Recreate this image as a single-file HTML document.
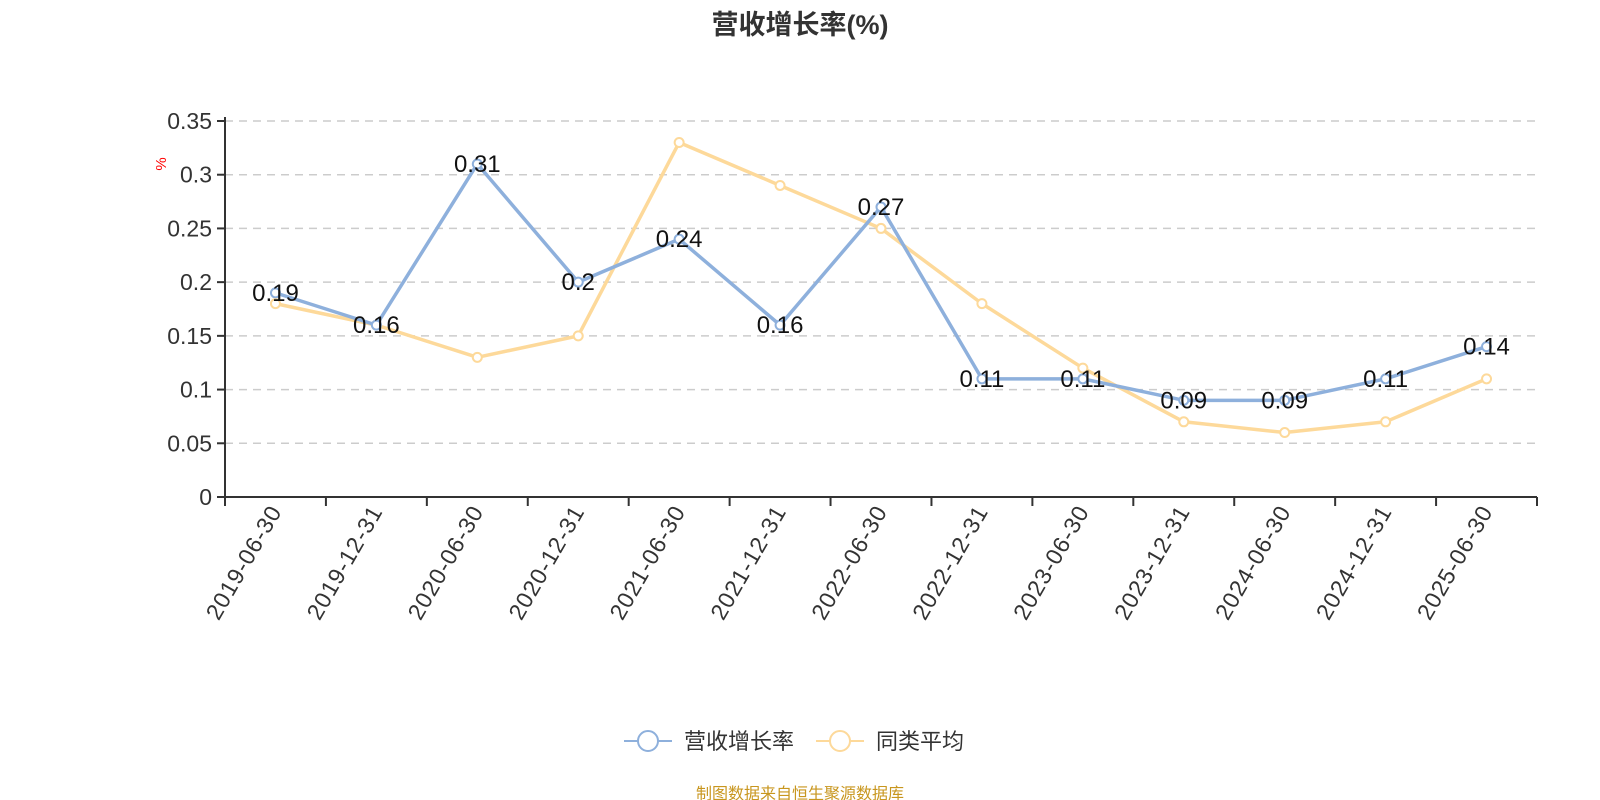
<!DOCTYPE html>
<html><head><meta charset="utf-8"><style>
body{margin:0;background:#fff;}
svg{display:block;font-family:"Liberation Sans","Noto Sans CJK SC",sans-serif;}
</style></head><body>
<svg id="chart" width="1600" height="800" viewBox="0 0 1600 800">
<text x="800" y="34" text-anchor="middle" font-size="27" font-weight="bold" fill="#333">营收增长率(%)</text>
<text x="0" y="0" transform="translate(166,164) rotate(-90)" text-anchor="middle" font-size="15" fill="#f00">%</text>
<g id="grid"></g><g id="axes"></g><g id="series"></g><g id="labels"></g>
<g>
<g>
<line x1="624" y1="741" x2="672" y2="741" stroke="#8eb0dc" stroke-width="2"/>
<circle cx="648" cy="741" r="10" fill="#fff" stroke="#8eb0dc" stroke-width="2"/>
<text x="684" y="749" font-size="22" fill="#333">营收增长率</text></g>
<g>
<line x1="816" y1="741" x2="864" y2="741" stroke="#fdd99a" stroke-width="2"/>
<circle cx="840" cy="741" r="10" fill="#fff" stroke="#fdd99a" stroke-width="2"/>
<text x="876" y="749" font-size="22" fill="#333">同类平均</text></g>
</g>
<text x="800" y="799" text-anchor="middle" font-size="16" fill="#c8961e">制图数据来自恒生聚源数据库</text>
</svg>
<script>
const categories=["2019-06-30","2019-12-31","2020-06-30","2020-12-31","2021-06-30","2021-12-31","2022-06-30","2022-12-31","2023-06-30","2023-12-31","2024-06-30","2024-12-31","2025-06-30"];
const revenueGrowth=[0.19,0.16,0.31,0.2,0.24,0.16,0.27,0.11,0.11,0.09,0.09,0.11,0.14];
const peerAverage=[0.18,0.16,0.13,0.15,0.33,0.29,0.25,0.18,0.12,0.07,0.06,0.07,0.11];
const yTicks=[0,0.05,0.1,0.15,0.2,0.25,0.3,0.35];
const yTickLabels=["0","0.05","0.1","0.15","0.2","0.25","0.3","0.35"];
const NS="http://www.w3.org/2000/svg";
const L=225,R=1537,T=121,B=497,YMAX=0.35;
const band=(R-L)/categories.length;
const x=i=>L+band*(i+0.5);
const y=v=>B-(v/YMAX)*(B-T);
function mk(tag,attrs,parent){const e=document.createElementNS(NS,tag);for(const k in attrs)e.setAttribute(k,attrs[k]);parent.appendChild(e);return e;}
const grid=document.getElementById('grid'),axes=document.getElementById('axes'),series=document.getElementById('series'),labels=document.getElementById('labels');
yTicks.forEach((t,i)=>{
  if(t>0){const g=mk('line',{x1:L,x2:R,y1:y(t),y2:y(t),stroke:'#ccc','stroke-dasharray':'8,6','stroke-width':1.5},grid);
  
  }
  const tk=mk('line',{x1:L-8,x2:L,y1:y(t),y2:y(t),stroke:'#333','stroke-width':2},axes);
  
  
  const tl=mk('text',{x:L-13,y:y(t)+8,'text-anchor':'end','font-size':23,fill:'#333'},axes);
  
  
  tl.textContent=yTickLabels[i];
});
const ya=mk('line',{x1:L,x2:L,y1:T-4,y2:B,stroke:'#333','stroke-width':2},axes);


const xa=mk('line',{x1:L,x2:R,y1:B,y2:B,stroke:'#333','stroke-width':2},axes);


for(let i=0;i<=categories.length;i++){
  const t=mk('line',{x1:L+band*i,x2:L+band*i,y1:B,y2:B+9,stroke:'#333','stroke-width':2},axes);
  
  
}
categories.forEach((c,i)=>{
  const t=mk('text',{transform:`translate(${x(i)+7},${B+14}) rotate(-60)`,'text-anchor':'end','font-size':23,'letter-spacing':'1',fill:'#333'},axes);
  
  
  t.textContent=c;
});
function drawSeries(vals,color,name,showLabels){
  const p=mk('polyline',{points:vals.map((v,i)=>x(i)+','+y(v)).join(' '),fill:'none',stroke:color,'stroke-width':3.5,'stroke-linejoin':'round'},series);
  
  
  vals.forEach((v,i)=>{
    const c=mk('circle',{cx:x(i),cy:y(v),r:4.5,fill:'#fff',stroke:color,'stroke-width':2},series);
    
    
    if(showLabels){
      const t=mk('text',{x:x(i),y:y(v)+8,'text-anchor':'middle','font-size':24,fill:'#111'},labels);
      
      
      t.textContent=String(v);
    }
  });
}
drawSeries(peerAverage,'#fdd99a','peer-average',false);
drawSeries(revenueGrowth,'#8eb0dc','revenue-growth',true);
</script>
</body></html>
